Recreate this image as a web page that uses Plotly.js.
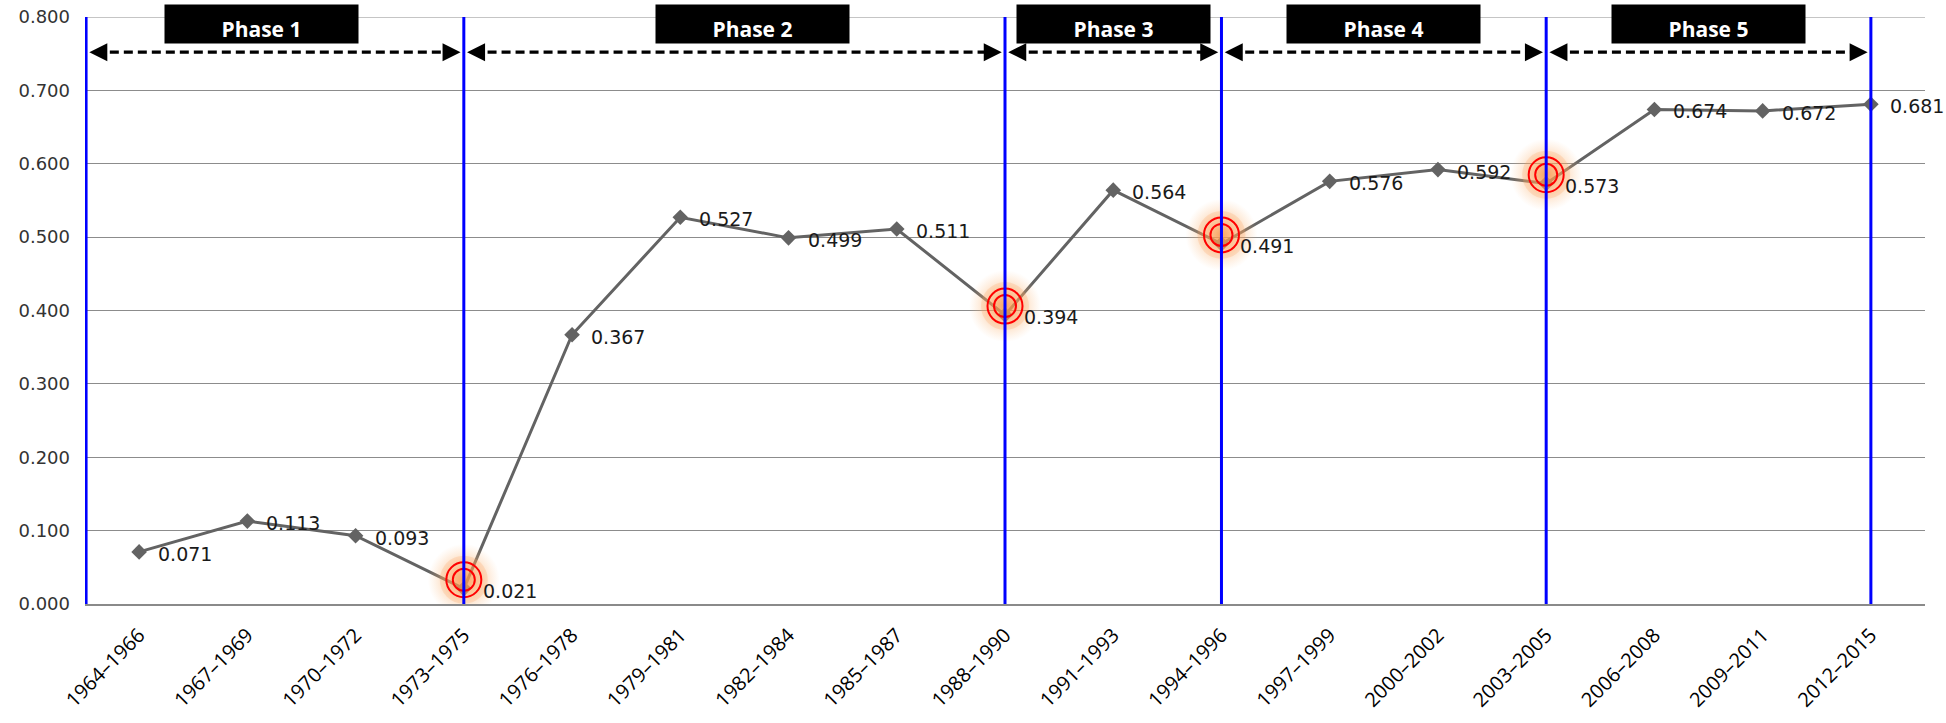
<!DOCTYPE html>
<html>
<head>
<meta charset="utf-8">
<script src="https://cdn.plot.ly/plotly-3.0.1.min.js"></script>
<style>html,body{margin:0;padding:0;background:#fff;}#chart{width:1946px;height:723px;}</style>
</head>
<body>
<div id="chart"></div>
<script>
// ---- data ----
const periods = ["1964–1966","1967–1969","1970–1972","1973–1975","1976–1978","1979–1981","1982–1984","1985–1987","1988–1990","1991–1993","1994–1996","1997–1999","2000–2002","2003–2005","2006–2008","2009–2011","2012–2015"];
const values = [0.071,0.113,0.093,0.021,0.367,0.527,0.499,0.511,0.394,0.564,0.491,0.576,0.592,0.573,0.674,0.672,0.681];
const highlightPeriods = ["1973–1975","1988–1990","1994–1996","2003–2005"];
const phaseNames = ["Phase 1","Phase 2","Phase 3","Phase 4","Phase 5"];
const phaseBoundaryPeriods = [null,"1973–1975","1988–1990","1994–1996","2003–2005","2012–2015"];
const yTicks = [0,0.1,0.2,0.3,0.4,0.5,0.6,0.7,0.8];

// ---- styling / layout config ----
const boxCenterShift = [-0.12,0.17,0,0,0];
const arrowY = 0.752;
const hiOffset = 0.012;

const idx = p => periods.indexOf(p);
const bounds = phaseBoundaryPeriods.map(p => p === null ? -0.49 : idx(p));
const hiX = highlightPeriods;
const hiY = highlightPeriods.map(p => values[idx(p)] + hiOffset);

const traces = [
  {x: periods, y: values, type:'scatter', mode:'lines+markers',
   line:{color:'#636363', width:3},
   marker:{symbol:'diamond', size:12, color:'#636363'},
   hoverinfo:'x+y', showlegend:false},
  {x: hiX, y: hiY, type:'scatter', mode:'markers', showlegend:false, hoverinfo:'skip',
   marker:{symbol:'circle', size:72, color:'rgba(252,190,130,0)',
     gradient:{type:'radial', color:'rgba(248,150,70,0.85)'}, line:{width:0}}},
  {x: hiX, y: hiY, type:'scatter', mode:'markers', showlegend:false, hoverinfo:'skip',
   marker:{symbol:'circle', size:48, color:'rgba(250,160,90,0.22)', line:{width:0}}},
  {x: hiX, y: hiY, type:'scatter', mode:'markers', showlegend:false, hoverinfo:'skip',
   marker:{symbol:'circle-open', size:35, color:'#ff0000', line:{width:2, color:'#ff0000'}}},
  {x: hiX, y: hiY, type:'scatter', mode:'markers', showlegend:false, hoverinfo:'skip',
   marker:{symbol:'circle-open', size:22, color:'#ff0000', line:{width:2, color:'#ff0000'}}}
];

const shapes = [];
const annotations = [];

// top gridline
shapes.push({type:'line', xref:'paper', yref:'y', x0:0, x1:1, y0:0.8, y1:0.8,
  line:{color:'#8c8c8c', width:1}, layer:'below'});

// blue phase boundaries
bounds.forEach(b => {
  shapes.push({type:'line', xref:'x', yref:'paper', x0:b, x1:b, y0:0, y1:1.0,
    line:{color:'#0000ff', width:3}, layer:'above'});
});

// dashed double arrows + boxes
for (let i = 0; i < phaseNames.length; i++) {
  const a = bounds[i] + 0.03, c = bounds[i+1] - 0.03;
  shapes.push({type:'line', xref:'x', yref:'y', x0:a + 0.06, x1:c - 0.06, y0:arrowY, y1:arrowY,
    line:{color:'#000', width:3.2, dash:'9px,5px'}, layer:'above'});
  annotations.push({x:c, y:arrowY, xref:'x', yref:'y', ax:-12, ay:0, text:'', showarrow:true,
    arrowhead:2, arrowsize:1.2, arrowwidth:3, arrowcolor:'#000', standoff:0});
  annotations.push({x:a, y:arrowY, xref:'x', yref:'y', ax:12, ay:0, text:'', showarrow:true,
    arrowhead:2, arrowsize:1.2, arrowwidth:3, arrowcolor:'#000', standoff:0});
  const mid = (Math.max(bounds[i], -0.5) + bounds[i+1]) / 2 + boxCenterShift[i];
  annotations.push({x:mid, y:1.0221, xref:'x', yref:'paper', yanchor:'top', xanchor:'center',
    text:'<b>'+phaseNames[i]+'</b>', showarrow:false, bgcolor:'#000',
    width:193, height:38, valign:'bottom', borderpad:0,
    font:{family:'Open Sans, sans-serif', size:21, color:'#fff'}});
}

// data labels
periods.forEach((p, i) => {
  annotations.push({x:p, y:values[i], xref:'x', yref:'y', text:values[i].toFixed(3),
    showarrow:false, xanchor:'left', yanchor:'middle', xshift:17, yshift:-2,
    font:{family:'DejaVu Sans, sans-serif', size:19, color:'#1a1a1a'}});
});

const layout = {
  width:1946, height:723,
  margin:{l:85, r:21, t:17, b:119},
  paper_bgcolor:'#fff', plot_bgcolor:'#fff',
  showlegend:false,
  xaxis:{type:'category', categoryorder:'array', categoryarray:periods,
    range:[-0.5, 16.5], showgrid:false, zeroline:false,
    showline:true, linecolor:'#8a8a8a', linewidth:1.5,
    ticks:'', tickangle:-45, ticklabelstandoff:10,
    tickfont:{family:'Open Sans, sans-serif', size:20, color:'#000'}},
  yaxis:{range:[0,0.8], tickvals:yTicks, tickformat:'.3f',
    showgrid:true, gridcolor:'#8c8c8c', gridwidth:1, zeroline:false, showline:false,
    ticks:'', ticklabelstandoff:14,
    tickfont:{family:'DejaVu Sans, sans-serif', size:18, color:'#333'}},
  shapes: shapes,
  annotations: annotations
};

Plotly.newPlot('chart', traces, layout, {displayModeBar:false, staticPlot:true});
</script>
</body>
</html>
